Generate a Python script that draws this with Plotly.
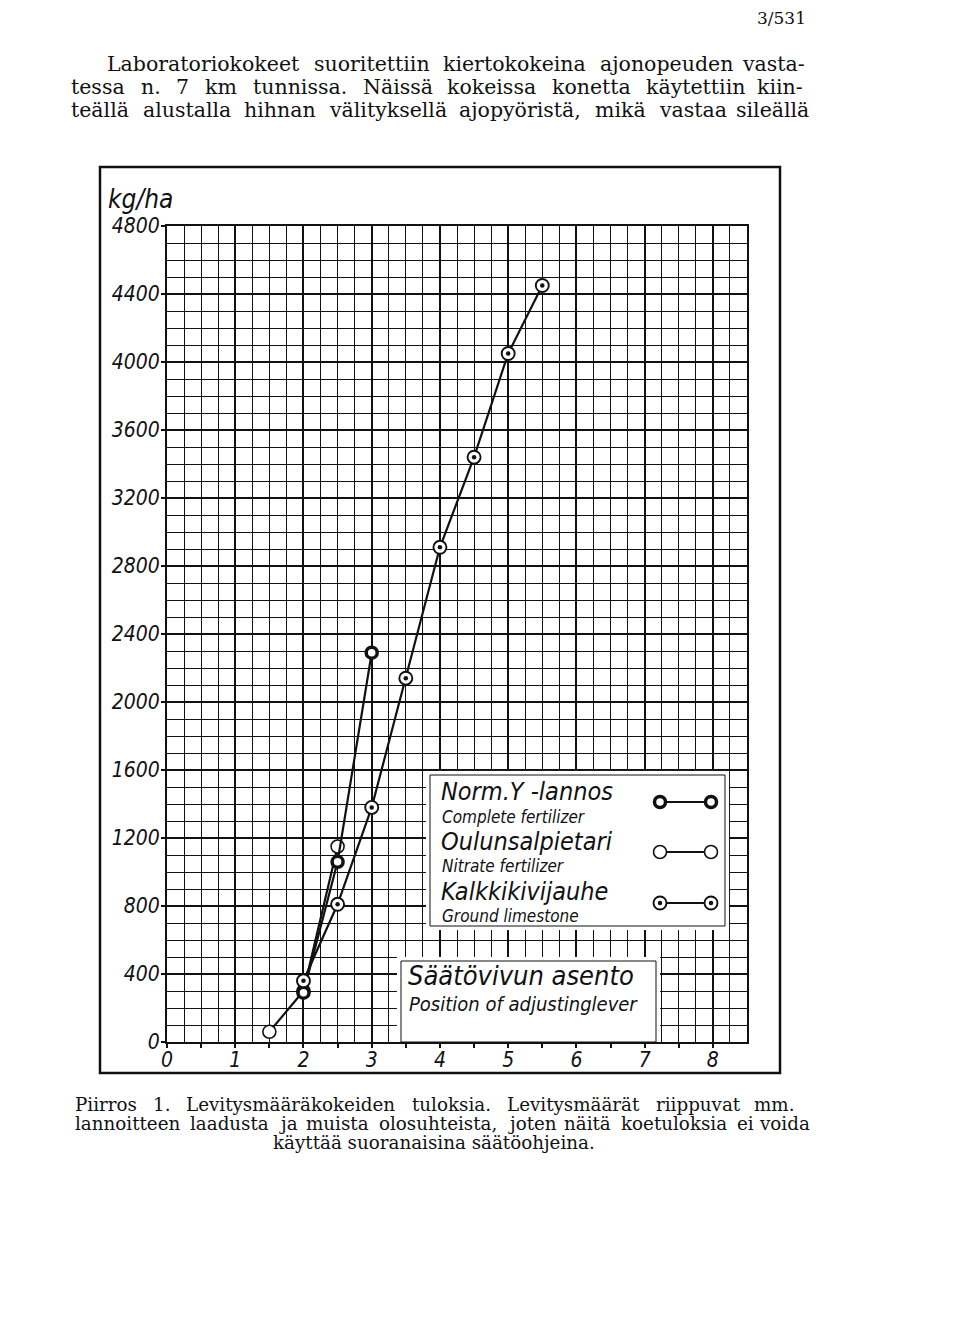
import plotly.graph_objects as go

# page size and plot area, in pixels of the reference page
W, H = 960, 1325
OFF = 8  # the page body adds this margin around the figure
PL, PR, PT, PB = 167, 747, 226, 1042

# adjusting lever position (x) and spread rate kg/ha (y)
lever_ticks = [0, 1, 2, 3, 4, 5, 6, 7, 8]
lever_marks = [0, 0.5, 1, 1.5, 2, 2.5, 3, 3.5, 4, 4.5, 5, 5.5, 6, 6.5, 7, 7.5, 8]
rate_ticks = [0, 400, 800, 1200, 1600, 2000, 2400, 2800, 3200, 3600, 4000, 4400, 4800]
rate_labels = ["0", "400", "800", "1200", "1600", "2000", "2400", "2800",
               "3200", "3600", "4000", "4400", "4800"]

norm_x = [2.0, 2.5, 3.0]
norm_y = [290, 1060, 2290]
oulu_x = [1.5, 2.0, 2.5]
oulu_y = [60, 300, 1150]
kalk_x = [2.0, 2.5, 3.0, 3.5, 4.0, 4.5, 5.0, 5.5]
kalk_y = [360, 810, 1380, 2140, 2910, 3440, 4050, 4450]

series_fi = ["Norm.Y -lannos", "Oulunsalpietari", "Kalkkikivijauhe"]
series_en = ["Complete fertilizer", "Nitrate fertilizer", "Ground limestone"]

body_lines = [
    "Laboratoriokokeet suoritettiin kiertokokeina ajonopeuden vasta-",
    "tessa n. 7 km tunnissa. Näissä kokeissa konetta käytettiin kiin-",
    "teällä alustalla hihnan välityksellä ajopyöristä, mikä vastaa sileällä",
]
caption_lines = [
    "Piirros 1. Levitysmääräkokeiden tuloksia. Levitysmäärät riippuvat mm.",
    "lannoitteen laadusta ja muista olosuhteista, joten näitä koetuloksia ei voida",
    "käyttää suoranaisina säätöohjeina.",
]

SANS = "DejaVu Sans Condensed"
SERIF = "DejaVu Serif"
INK = "#111111"

# rough advance widths of DejaVu Serif (em), used to justify the page text
SERIF_EM = {"i": 0.32, "j": 0.31, "l": 0.32, "f": 0.37, "t": 0.40, "r": 0.48,
            "s": 0.51, "z": 0.53, "c": 0.56, "v": 0.56, "y": 0.56, "m": 0.97,
            "w": 0.84, ".": 0.32, ",": 0.32, "-": 0.34, "L": 0.69, "N": 0.77,
            "P": 0.68, "h": 0.64, "n": 0.64, "u": 0.64, "b": 0.64, "d": 0.64,
            "p": 0.64, "g": 0.64, "k": 0.60}


def px(x):
    return (x - PL) / (PR - PL)


def py(y):
    return (PB - y) / (PB - PT)


ring_thick = dict(symbol="circle", size=11, color="white", line=dict(color=INK, width=3.5))
ring_thin = dict(symbol="circle", size=13, color="white", line=dict(color=INK, width=1.6))
ring_dot = dict(symbol="circle", size=13, color="white", line=dict(color=INK, width=1.9))
dot = dict(symbol="circle", size=4.5, color=INK)
line_style = dict(color=INK, width=2.2)

fig = go.Figure()

fig.add_trace(go.Scatter(x=oulu_x, y=oulu_y, mode="lines+markers",
                         line=line_style, marker=ring_thin))
fig.add_trace(go.Scatter(x=norm_x, y=norm_y, mode="lines+markers",
                         line=line_style, marker=ring_thick))
fig.add_trace(go.Scatter(x=kalk_x, y=kalk_y, mode="lines+markers",
                         line=line_style, marker=ring_dot))
fig.add_trace(go.Scatter(x=kalk_x, y=kalk_y, mode="markers", marker=dot))


def box(x0, x1, y0, y1, outline):
    # white panel over the grid, on the overlay axis (plot-area fractions)
    fig.add_trace(go.Scatter(
        x=[px(x0), px(x1), px(x1), px(x0), px(x0)],
        y=[py(y0), py(y0), py(y1), py(y1), py(y0)],
        mode="lines", fill="toself", fillcolor="white",
        line=dict(color=INK if outline else "white", width=1 if outline else 0.1),
        xaxis="x2", yaxis="y2"))


box(426, 729, 771, 930, False)
box(430, 725, 775, 926, True)
box(397, 660, 957, 1042, False)
box(401, 656, 961, 1042, True)

# legend samples
legend_rows = [802, 852, 903]
sample_markers = [ring_thick, ring_thin, ring_dot]
for row, mk in zip(legend_rows, sample_markers):
    fig.add_trace(go.Scatter(x=[px(660), px(711)], y=[py(row), py(row)],
                             mode="lines+markers", line=dict(color=INK, width=1.8),
                             marker=mk, xaxis="x2", yaxis="y2"))
fig.add_trace(go.Scatter(x=[px(660), px(711)], y=[py(903), py(903)], mode="markers",
                         marker=dot, xaxis="x2", yaxis="y2"))

# small marks under the lever axis
fig.add_trace(go.Scatter(x=lever_marks, y=[None] * len(lever_marks), xaxis="x3",
                         mode="markers", showlegend=False))

shapes = [
    dict(type="rect", xref="paper", yref="paper", x0=px(100), x1=px(780),
         y0=py(1073), y1=py(167), line=dict(color=INK, width=2.5)),
]

annotations = []


def text(x, y, s, size, family, anchor="left", style="normal"):
    annotations.append(dict(x=px(x), y=py(y), xref="paper", yref="paper", text=s,
                            showarrow=False, xanchor=anchor, yanchor="middle",
                            font=dict(family=family, size=size, color=INK, style=style)))


def justified(line, left, right, y, size):
    words = line.split()
    widths = [size * sum(SERIF_EM.get(c, 0.6) for c in w) for w in words]
    gap = (right - left - sum(widths)) / (len(words) - 1)
    x = left
    for w, wd in zip(words[:-1], widths[:-1]):
        text(x, y, w, size, SERIF)
        x += wd + gap
    text(right, y, words[-1], size, SERIF, anchor="right")


text(808, 18, "3/531", 17, SERIF, anchor="right")
justified(body_lines[0], 105, 807, 64, 20.5)
justified(body_lines[1], 69, 805, 87, 20.5)
justified(body_lines[2], 69, 811, 110, 20.5)

text(106, 199, "kg/ha", 26, SANS, style="italic")

for i, row in enumerate([791, 841, 891]):
    text(439, row, series_fi[i], 25, SANS, style="italic")
for i, row in enumerate([817, 866, 916]):
    text(440, row, series_en[i], 17, SANS, style="italic")

text(406, 975, "Säätövivun asento", 27, SANS, style="italic")
text(407, 1004, "Position of adjustinglever", 20, SANS, style="italic")

justified(caption_lines[0], 73, 796, 1104, 18.3)
justified(caption_lines[1], 73, 812, 1123, 18.3)
text(434, 1142, caption_lines[2], 18.3, SERIF, anchor="center")

fig.update_layout(
    width=W, height=H,
    margin=dict(l=PL - OFF, r=W - (PR - OFF), t=PT - OFF, b=H - (PB - OFF), pad=0),
    plot_bgcolor="white", paper_bgcolor="white",
    showlegend=False,
    shapes=shapes,
    annotations=annotations,
    xaxis=dict(
        range=[0, 8.5], tickvals=lever_ticks,
        ticks="", ticklabelstandoff=-2,
        showgrid=True, gridcolor=INK, gridwidth=2.4,
        minor=dict(dtick=0.25, showgrid=True, gridcolor=INK, gridwidth=1.4),
        showline=True, linecolor=INK, linewidth=2, mirror=True,
        zeroline=False,
        tickfont=dict(family=SANS, size=21, color=INK, style="italic"),
    ),
    yaxis=dict(
        range=[0, 4800], tickvals=rate_ticks, ticktext=rate_labels,
        ticks="outside", ticklen=4, tickwidth=1.5, tickcolor=INK,
        ticklabelstandoff=-3,
        showgrid=True, gridcolor=INK, gridwidth=2.4,
        minor=dict(dtick=100, showgrid=True, gridcolor=INK, gridwidth=1.4),
        showline=True, linecolor=INK, linewidth=2, mirror=True,
        zeroline=False,
        tickfont=dict(family=SANS, size=21, color=INK, style="italic"),
    ),
    xaxis2=dict(range=[0, 1], overlaying="x", visible=False),
    yaxis2=dict(range=[0, 1], overlaying="y", visible=False),
    xaxis3=dict(range=[0, 8.5], overlaying="x", anchor="y", side="bottom",
                tickvals=lever_marks, showticklabels=False, showgrid=False,
                ticks="outside", ticklen=5, tickwidth=1.5, tickcolor=INK,
                zeroline=False, showline=False),
)

fig.write_html("out.html")
